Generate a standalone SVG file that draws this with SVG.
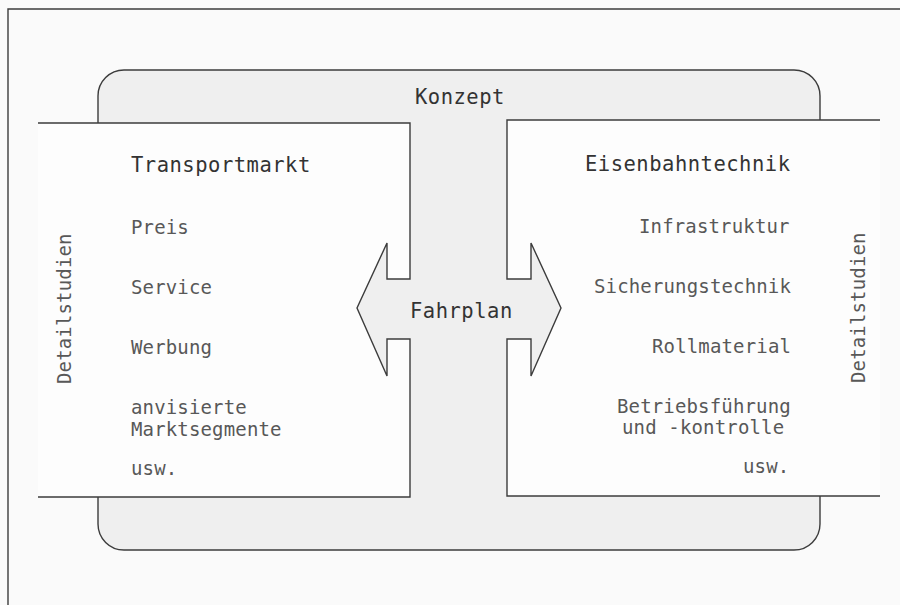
<svg xmlns="http://www.w3.org/2000/svg" width="900" height="605" viewBox="0 0 900 605">
<style>
.ln{fill:none;stroke:#3c3c3c;stroke-width:1.4;stroke-linejoin:miter}
.h{font-family:"DejaVu Sans Mono","Liberation Mono",monospace;font-size:20.5px;letter-spacing:0.5px;fill:#333333}
.i{font-family:"DejaVu Sans Mono","Liberation Mono",monospace;font-size:19px;letter-spacing:0.15px;fill:#585858}
</style>
<rect x="0" y="0" width="900" height="605" fill="#fafafa"/>
<g id="frame">
<path class="ln" d="M8,605 V9 H900"/>
</g>
<g id="konzept">
<rect x="98" y="70" width="722" height="480" rx="26" fill="#efefef" stroke="#3c3c3c" stroke-width="1.4"/>
<text class="h" x="415" y="104">Konzept</text>
</g>
<g id="transportmarkt">
<polygon points="38,123 410,123 410,279 387,279 387,243 357,308 387,376 387,339 410,339 410,497 38,497" fill="#fdfdfd"/>
<path class="ln" d="M38,123 H410 V279 H387 V243 L357,308 L387,376 V339 H410 V497 H38"/>
<text class="h" x="131" y="172">Transportmarkt</text>
<text class="i" x="131" y="234">Preis</text>
<text class="i" x="131" y="294">Service</text>
<text class="i" x="131" y="354">Werbung</text>
<text class="i" x="131" y="414">anvisierte</text>
<text class="i" x="131" y="436">Marktsegmente</text>
<text class="i" x="131" y="475">usw.</text>
<text class="i" transform="translate(71,384) rotate(-90)">Detailstudien</text>
</g>
<g id="eisenbahntechnik">
<polygon points="880,120 507,120 507,279 531,279 531,243 561,308 531,376 531,339 507,339 507,496 880,496" fill="#fdfdfd"/>
<path class="ln" d="M880,120 H507 V279 H531 V243 L561,308 L531,376 V339 H507 V496 H880"/>
<text class="h" x="585" y="171">Eisenbahntechnik</text>
<text class="i" x="639" y="233">Infrastruktur</text>
<text class="i" x="594" y="293">Sicherungstechnik</text>
<text class="i" x="652" y="353">Rollmaterial</text>
<text class="i" x="617" y="413">Betriebsführung</text>
<text class="i" x="622" y="434">und -kontrolle</text>
<text class="i" x="743" y="473">usw.</text>
<text class="i" transform="translate(865,383) rotate(-90)">Detailstudien</text>
</g>
<g id="connectors">
<text class="h" x="410" y="318">Fahrplan</text>
</g>
</svg>
